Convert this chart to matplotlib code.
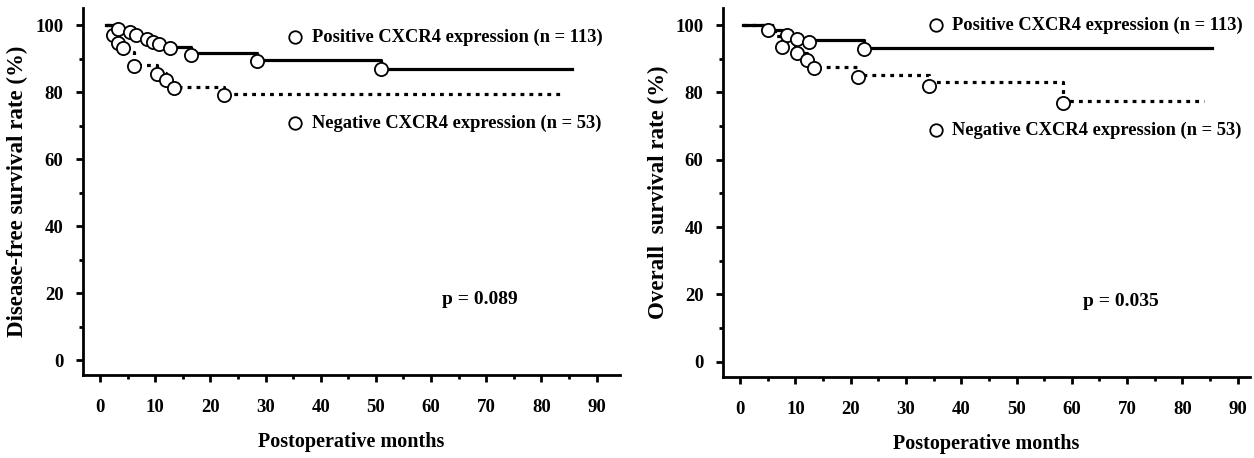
import matplotlib
matplotlib.use('Agg')
import matplotlib.pyplot as plt
from matplotlib.ticker import MultipleLocator

# Disease-free survival (left panel)
dfsPosTimes = [1, 3.3, 5.4, 6.5, 8.5, 9.6, 10.6, 12.7, 16.5, 28.4, 51.0, 85.5]
dfsPosRates = [100, 99.0, 98.0, 97.2, 96.0, 95.0, 94.5, 93.4, 91.6, 89.7, 87.0, 87.0]
dfsPosMarkX = [3.3, 5.4, 6.5, 8.5, 9.6, 10.6, 12.7, 16.5, 28.4, 51.0]
dfsPosMarkY = [98.8, 98.0, 97.2, 96.0, 95.0, 94.5, 93.2, 91.0, 89.4, 86.8]

dfsNegTimes = [1, 2.4, 3.3, 4.2, 6.2, 10.4, 12.0, 13.4, 22.4, 84.0]
dfsNegRates = [100, 97.2, 95.3, 92.0, 88.1, 85.8, 83.8, 81.6, 79.6, 79.6]
dfsNegMarkX = [2.4, 3.3, 4.2, 6.2, 10.4, 12.0, 13.4, 22.4]
dfsNegMarkY = [97.0, 94.8, 93.2, 87.8, 85.6, 83.6, 81.2, 79.2]

# Overall survival (right panel)
osPosTimes = [0.5, 5.1, 8.4, 10.3, 12.4, 22.4, 85.4]
osPosRates = [100, 98.5, 97.0, 96.0, 95.5, 93.1, 93.1]
osPosMarkX = [5.1, 8.4, 10.3, 12.4, 22.4]
osPosMarkY = [98.5, 97.0, 96.0, 95.0, 92.8]

osNegTimes = [0.5, 6.3, 7.5, 10.3, 12.1, 13.3, 21.4, 34.2, 58.5, 84.0]
osNegRates = [100, 96.8, 93.8, 91.8, 89.8, 87.6, 85.2, 83.2, 77.4, 77.4]
osNegMarkX = [7.5, 10.3, 12.1, 13.3, 21.4, 34.2, 58.5]
osNegMarkY = [93.6, 91.6, 89.6, 87.4, 84.7, 81.9, 76.8]

posLabel = "Positive CXCR4 expression (n = 113)"
negLabel = "Negative CXCR4 expression (n = 53)"

plt.rcParams['font.family'] = ['Liberation Serif', 'DejaVu Serif']
plt.rcParams['font.weight'] = 'bold'

LW = 2.3
MS = 9.5


def drawPanel(ax, posT, posR, posMX, posMY, negT, negR, negMX, negMY, ylabel, pText, posY, negY, xlim, ylim):
	ax.plot(negT, negR, drawstyle='steps-post', color='black', lw=LW, dashes=(1.2, 1.6), dash_capstyle='butt', zorder=2)
	ax.plot(posT, posR, drawstyle='steps-post', color='black', lw=LW, zorder=3)
	ax.plot(negMX, negMY, 'o', mfc='white', mec='black', mew=1.3, ms=MS, zorder=4)
	ax.plot(posMX, posMY, 'o', mfc='white', mec='black', mew=1.3, ms=MS, zorder=5)

	# legend-like labels
	ax.plot([35.4], [posY], 'o', mfc='white', mec='black', mew=1.3, ms=MS - 0.5, clip_on=False)
	ax.plot([35.4], [negY], 'o', mfc='white', mec='black', mew=1.3, ms=MS - 0.5, clip_on=False)
	ax.text(38.4, posY, posLabel, fontsize=13.3, fontweight='bold', va='center', ha='left')
	ax.text(38.4, negY, negLabel, fontsize=13.3, fontweight='bold', va='center', ha='left')
	ax.text(68.8, 18, pText, fontsize=14, fontweight='bold', va='center', ha='center')

	ax.set_xlim(*xlim)
	ax.set_ylim(*ylim)
	ax.set_xticks(range(0, 100, 10))
	ax.set_yticks(range(0, 120, 20))
	ax.xaxis.set_minor_locator(MultipleLocator(5))
	ax.yaxis.set_minor_locator(MultipleLocator(10))
	for s in ['top', 'right']:
		ax.spines[s].set_visible(False)
	for s in ['left', 'bottom']:
		ax.spines[s].set_linewidth(2.0)
	ax.tick_params(axis='both', which='major', length=5, width=2.0, labelsize=13.5)
	ax.tick_params(axis='both', which='minor', length=3, width=2.0)
	ax.tick_params(axis='x', which='major', pad=12)
	ax.tick_params(axis='y', which='major', pad=9)
	for lab in ax.get_xticklabels() + ax.get_yticklabels():
		lab.set_fontweight('bold')
	ax.set_xlabel("Postoperative months", fontsize=14.5, fontweight='bold', labelpad=12)
	ax.set_ylabel(ylabel, fontsize=16.5, fontweight='bold', labelpad=5)


fig = plt.figure(figsize=(12.54, 4.58), dpi=100)
axL = fig.add_axes([0.0662, 0.181, 0.428, 0.801])
axR = fig.add_axes([0.5766, 0.177, 0.420, 0.805])

drawPanel(axL, dfsPosTimes, dfsPosRates, dfsPosMarkX, dfsPosMarkY,
	dfsNegTimes, dfsNegRates, dfsNegMarkX, dfsNegMarkY,
	"Disease-free survival rate (%)", "p = 0.089", 96.4, 70.7, (-3.1, 94.2), (-4.5, 105.1))
drawPanel(axR, osPosTimes, osPosRates, osPosMarkX, osPosMarkY,
	osNegTimes, osNegRates, osNegMarkX, osNegMarkY,
	"Overall  survival rate (%)", "p = 0.035", 100.0, 68.8, (-3.1, 92.2), (-4.5, 105.0))

fig.savefig('out.png', dpi=100)
